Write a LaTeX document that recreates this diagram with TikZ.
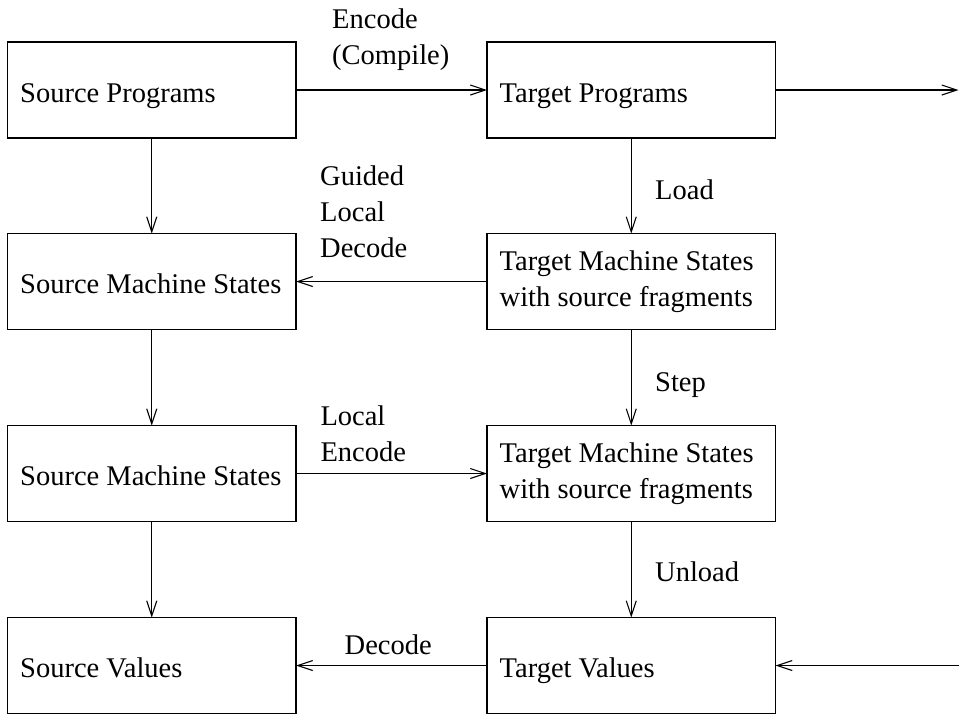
\documentclass[tikz,border=0pt]{standalone}
\usepackage{fontspec}
\setmainfont{Liberation Serif}
\usetikzlibrary{arrows.meta}
\begin{document}
\begin{tikzpicture}[x=1pt,y=-1pt,
  box/.style={draw, line width=1.1pt, minimum width=288.5pt, minimum height=96pt, inner sep=0pt, outer sep=0pt, anchor=north west},
  txt/.style={font=\fontsize{28.5}{36}\selectfont, inner sep=0pt, align=left},
  arr/.style={line width=1.1pt, -{Straight Barb[length=15pt,width=10pt,line width=1.1pt]}},
  ]
\useasboundingbox (0,0) rectangle (959,713);
\clip (0,0) rectangle (959,713);
% boxes
\node[box] (sp)   at (7.5,42)    {};
\node[box] (tp)   at (487,42)    {};
\node[box] (sms1) at (7.5,233.5) {};
\node[box] (tms1) at (487,233.5) {};
\node[box] (sms2) at (7.5,425.5) {};
\node[box] (tms2) at (487,425.5) {};
\node[box] (sv)   at (7.5,617.5) {};
\node[box] (tv)   at (487,617.5) {};
% box texts
\node[txt, anchor=base west] (spt)   at ([xshift=12.5pt,yshift=-12pt]sp.west)   {Source Programs};
\node[txt, anchor=base west] (tpt)   at ([xshift=12.5pt,yshift=-12pt]tp.west)   {Target Programs};
\node[txt, anchor=base west] (sms1t) at ([xshift=12.5pt,yshift=-12pt]sms1.west) {Source Machine States};
\node[txt, anchor=west]      (tms1t) at ([xshift=12.5pt]tms1.west) {Target Machine States\\with source fragments};
\node[txt, anchor=base west] (sms2t) at ([xshift=12.5pt,yshift=-12pt]sms2.west) {Source Machine States};
\node[txt, anchor=west]      (tms2t) at ([xshift=12.5pt]tms2.west) {Target Machine States\\with source fragments};
\node[txt, anchor=base west] (svt)   at ([xshift=12.5pt,yshift=-12pt]sv.west)   {Source Values};
\node[txt, anchor=base west] (tvt)   at ([xshift=12.5pt,yshift=-12pt]tv.west)   {Target Values};
% labels (base = baseline of last line)
\node[txt, anchor=base west] (enc)    at (332,64.3)    {Encode\\(Compile)};
\node[txt, anchor=base west] (gld)    at (320,257)     {Guided\\Local\\Decode};
\node[txt, anchor=base west] (load)   at (655,199)     {Load};
\node[txt, anchor=base west] (step)   at (655,391)     {Step};
\node[txt, anchor=base west] (lenc)   at (320.3,461.7) {Local\\Encode};
\node[txt, anchor=base west] (unload) at (655,581.7)   {Unload};
\node[txt, anchor=base west] (dec)    at (344.5,654)   {Decode};
% free ends
\coordinate (rout) at (958.5,90);
\coordinate (rin)  at (960,665.5);
% connectors
\draw[arr] (sp.east) -- (tp.west);
\draw[arr] (tp.east) -- (rout);
\draw[arr] (sp.south) -- (sms1.north);
\draw[arr] (tp.south) -- (tms1.north);
\draw[arr] (tms1.west) -- (sms1.east);
\draw[arr] (sms1.south) -- (sms2.north);
\draw[arr] (tms1.south) -- (tms2.north);
\draw[arr] (sms2.east) -- (tms2.west);
\draw[arr] (sms2.south) -- (sv.north);
\draw[arr] (tms2.south) -- (tv.north);
\draw[arr] (tv.west) -- (sv.east);
\draw[arr] (rin) -- (tv.east);
\end{tikzpicture}
\end{document}
